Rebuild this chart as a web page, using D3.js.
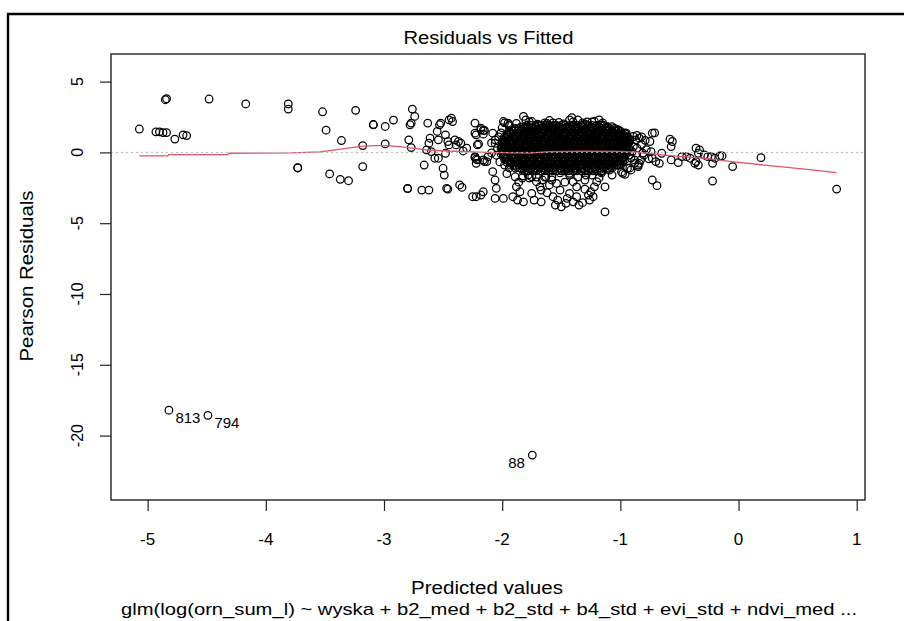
<!DOCTYPE html>
<html>
<head>
<meta charset="utf-8">
<script src="https://cdn.jsdelivr.net/npm/d3@7"></script>
<style>
  html, body { margin: 0; padding: 0; background: #fff; }
  svg { display: block; }
  text { font-family: "Liberation Sans", Arial, sans-serif; fill: #000; }
</style>
</head>
<body>
<svg id="chart" width="904" height="621"></svg>
<script>
// ---------------- DATA ----------------
const titleText = "Residuals vs Fitted";
const xLabelText = "Predicted values";
const yLabelText = "Pearson Residuals";
const subText = "glm(log(orn_sum_l) ~ wyska + b2_med + b2_std + b4_std + evi_std + ndvi_med ...";

const xTicks = [-5, -4, -3, -2, -1, 0, 1];
const yTicks = [5, 0, -5, -10, -15, -20];

// scattered points [fitted, pearson residual]
const scatterPoints = [
  [-5.07,1.65],[-4.93,1.45],[-4.90,1.45],[-4.87,1.40],[-4.84,1.40],[-4.77,0.94],[-4.70,1.24],[-4.67,1.19],
  [-4.85,3.72],[-4.84,3.79],[-4.48,3.77],[-4.17,3.42],[-3.81,3.42],[-3.81,3.06],[-3.52,2.87],[-3.49,1.57],
  [-3.73,-1.08],[-3.73,-1.10],[-3.46,-1.52],
  [-3.24,2.97],[-3.09,1.95],[-3.09,1.97],[-2.99,1.83],[-2.92,2.28],[-3.36,0.84],[-3.18,0.48],[-2.99,0.60],
  [-3.18,-1.00],[-3.37,-1.90],[-3.30,-2.00],
  [-2.76,3.06],[-2.74,2.54],[-2.77,2.07],[-2.78,1.95],[-2.79,0.89],[-2.77,0.34],[-2.80,-2.54],[-2.80,-2.56],
  [-2.68,-2.66],[-2.62,-2.66],[-2.66,-0.89],[-2.63,2.07],[-2.61,1.00],[-2.62,0.65],[-2.64,0.18],[-2.60,0.06],
  [-2.57,-0.41],[-2.54,-0.41],[-2.54,0.89],[-2.55,1.48],[-2.53,1.95],[-2.52,2.07],[-2.48,1.24],[-2.46,0.77],
  [-2.45,0.53],[-2.48,-0.06],[-2.50,-1.12],[-2.49,-1.60],[-2.46,-2.59],[-2.47,-2.54],[-2.45,2.30],[-2.42,2.18],
  [-2.43,2.42],[-2.40,0.89],[-2.37,0.77],[-2.35,0.65],[-2.39,0.53],[-2.33,0.10],[-2.30,0.30],[-2.36,-2.30],
  [-2.34,-2.47],[-2.23,2.07],[-2.22,1.24],[-2.18,1.60],[-2.16,1.55],[-2.20,0.60],[-2.23,-0.37],[-2.22,-0.48],
  [-2.16,-0.53],[-2.13,-0.65],[-2.22,-0.77],[-2.25,-3.13],[-2.22,-3.13],[-2.18,-3.01],[-2.16,-2.78],
  [-2.18,1.72],[-2.15,1.55],[-2.23,1.36],[-2.16,1.29],[-2.21,0.53],[-2.23,-0.30],[-2.21,-0.53],[-2.15,-0.65],
  [-2.12,-0.30],[-2.08,1.36],[-2.06,0.65],[-2.08,-1.36],[-2.06,-1.95],[-2.05,-2.54],[-2.06,-3.25],[-1.99,-3.25],
  [-1.99,2.18],[-1.95,2.07],[-1.94,1.88],[-1.82,2.54],[-1.80,2.30],[-1.75,2.18],
  [-1.89,-1.72],[-1.88,-2.43],[-1.85,-2.78],[-1.91,-3.13],[-1.87,-3.37],[-1.82,-3.49],
  [-1.78,-1.60],[-1.75,-1.72],[-1.71,-2.07],[-1.68,-2.43],[-1.67,-2.66],[-1.73,-3.37],[-1.67,-3.49],
  [-1.63,-1.72],[-1.58,-1.95],[-1.54,-2.19],[-1.51,-2.66],[-1.57,-3.13],[-1.53,-3.37],[-1.55,-3.72],[-1.50,-3.84],[-1.46,-3.60],
  [-1.43,-1.48],[-1.40,-2.07],[-1.37,-2.43],[-1.43,-2.90],[-1.37,-3.13],[-1.35,-3.72],[-1.40,-3.49],
  [-1.27,-3.01],[-1.26,-3.37],[-1.23,-3.13],[-1.25,-2.78],[-1.22,-2.43],[-1.20,-2.07],
  [-1.13,-2.43],[-1.13,-4.20],
  [-1.16,-1.36],[-1.09,-1.24],[-1.03,-0.89],[-0.98,-1.48],[-0.94,-1.12],[-0.88,-0.77],
  [-0.92,-0.18],[-0.88,-0.53],[-0.95,0.18],[-0.89,0.41],[-0.95,1.36],[-0.89,1.12],[-0.87,0.89],
  [-0.84,1.00],[-0.73,1.36],[-0.75,0.77],[-0.74,0.06],[-0.73,-0.41],[-0.70,-0.65],[-0.67,-0.77],[-0.65,-0.06],
  [-0.84,-0.77],[-0.85,-1.00],[-0.91,-1.24],[-0.96,-1.55],[-0.73,-1.95],[-0.69,-2.35],
  [-0.58,0.94],[-0.56,0.77],[-0.57,0.41],[-0.57,-0.53],[-0.51,-0.72],[-0.48,-0.30],[-0.44,-0.30],[-0.41,-0.41],
  [-0.36,0.30],[-0.33,0.18],[-0.34,-0.06],[-0.36,-0.65],[-0.34,-0.89],[-0.37,-0.77],[-0.29,-0.18],[-0.26,-0.30],
  [-0.23,-0.30],[-0.20,-0.41],[-0.16,-0.25],[-0.22,-0.77],[-0.22,-2.02],[-0.14,-0.25],[-0.05,-1.00],[0.19,-0.37],[0.83,-2.59],
  // fringe of the dense cloud
  [-1.98,2.09],[-1.94,1.95],[-1.77,2.16],[-1.64,2.09],[-1.62,2.05],[-1.57,2.09],[-1.43,2.30],[-1.41,2.45],
  [-1.40,2.16],[-1.32,2.09],[-1.28,2.16],[-1.24,2.16],[-1.22,2.20],[-1.16,1.95],[-1.15,2.09],[-1.11,1.81],
  [-1.07,1.81],[-1.02,1.60],[-0.96,1.38],[-0.94,1.10],[-0.82,1.10],[-0.71,1.38],
  [-1.60,2.25],[-1.52,2.12],[-1.48,2.02],[-1.36,2.30],[-1.30,2.02],[-1.18,2.30],[-1.70,2.00],[-1.88,2.05],
  [-2.09,0.67],[-2.06,0.89],[-2.01,1.38],[-2.00,1.74],[-2.09,-0.04],[-2.02,-0.67],[-1.98,-0.89],[-1.94,-1.10],
  [-2.04,0.30],[-2.05,-0.20],[-2.03,1.10],
  [-1.83,-1.67],[-1.71,-1.74],[-1.64,-1.74],[-1.58,-1.74],[-1.51,-1.45],[-1.43,-1.60],[-1.36,-1.74],[-1.29,-1.60],
  [-1.24,-1.60],[-1.16,-1.45],[-1.07,-1.60],[-0.99,-1.38],[-0.92,-1.10],[-0.85,-0.89],
  [-1.83,-1.81],[-1.77,-1.81],[-1.96,-1.50],[-1.60,-2.30],[-1.47,-2.10],[-1.30,-1.95],[-1.18,-1.80],[-1.66,-1.95],
  [-1.86,-2.10],[-1.30,-2.60],[-1.62,-2.85],[-1.45,-3.25],[-1.75,-2.90],[-1.32,-3.55],
  [-0.93,0.65],[-0.90,0.05],[-0.86,0.30],[-0.82,0.55],[-0.80,-0.20],[-0.78,0.20],[-0.76,-0.45],[-0.91,-0.40],
  [-0.83,-0.55],[-0.79,0.85],[-0.86,1.20],[-0.81,-0.05]
];

// dense core of the cloud: residual level, fitted values at that level
const denseRows = [
  [1.9,  [-1.79,-1.76,-1.72,-1.69,-1.67,-1.63,-1.60,-1.56,-1.54,-1.50,-1.47,-1.43,-1.40,-1.37,-1.33,-1.31,-1.27,-1.24,-1.20,-1.17,-1.14]],
  [1.8,  [-1.84,-1.78,-1.71,-1.65,-1.58,-1.52,-1.45,-1.38,-1.32,-1.25,-1.18,-1.11]],
  [1.7,  [-1.89,-1.86,-1.82,-1.79,-1.75,-1.73,-1.69,-1.66,-1.62,-1.59,-1.57,-1.53,-1.49,-1.46,-1.43,-1.39,-1.36,-1.33,-1.29,-1.26,-1.23,-1.19,-1.16,-1.12,-1.09,-1.05]],
  [1.6,  [-1.90,-1.83,-1.77,-1.70,-1.64,-1.57,-1.50,-1.44,-1.37,-1.30,-1.24,-1.17,-1.10,-1.04]],
  [1.5,  [-1.94,-1.91,-1.87,-1.84,-1.81,-1.77,-1.74,-1.71,-1.67,-1.64,-1.61,-1.57,-1.54,-1.51,-1.48,-1.44,-1.41,-1.38,-1.34,-1.31,-1.28,-1.24,-1.21,-1.18,-1.14,-1.11,-1.07,-1.04,-1.00]],
  [1.4,  [-1.93,-1.86,-1.80,-1.73,-1.66,-1.60,-1.53,-1.46,-1.40,-1.33,-1.27,-1.20,-1.13,-1.06,-1.00]],
  [1.3,  [-1.96,-1.93,-1.89,-1.86,-1.82,-1.79,-1.76,-1.72,-1.69,-1.66,-1.62,-1.59,-1.56,-1.52,-1.49,-1.46,-1.42,-1.39,-1.36,-1.32,-1.29,-1.26,-1.22,-1.19,-1.16,-1.12,-1.09,-1.06,-1.02,-0.99,-0.96]],
  [1.2,  [-1.95,-1.88,-1.82,-1.75,-1.69,-1.62,-1.55,-1.49,-1.42,-1.35,-1.29,-1.22,-1.15,-1.09,-1.02,-0.97]],
  [1.1,  [-1.98,-1.95,-1.91,-1.88,-1.84,-1.81,-1.78,-1.74,-1.71,-1.68,-1.64,-1.61,-1.57,-1.54,-1.51,-1.47,-1.44,-1.41,-1.37,-1.34,-1.30,-1.27,-1.24,-1.20,-1.17,-1.14,-1.10,-1.07,-1.03,-1.00,-0.97,-0.94]],
  [1.0,  [-1.97,-1.90,-1.83,-1.77,-1.70,-1.63,-1.57,-1.50,-1.43,-1.37,-1.30,-1.23,-1.17,-1.10,-1.03,-0.96]],
  [0.9,  [-1.99,-1.96,-1.92,-1.89,-1.85,-1.82,-1.79,-1.75,-1.72,-1.69,-1.65,-1.62,-1.58,-1.55,-1.52,-1.48,-1.45,-1.42,-1.38,-1.35,-1.31,-1.28,-1.25,-1.21,-1.18,-1.15,-1.11,-1.08,-1.04,-1.01,-0.98,-0.95,-0.92]],
  [0.8,  [-1.98,-1.92,-1.85,-1.78,-1.72,-1.65,-1.58,-1.52,-1.45,-1.38,-1.32,-1.25,-1.18,-1.12,-1.05,-0.98,-0.94]],
  [0.7,  [-2.00,-1.97,-1.93,-1.90,-1.86,-1.83,-1.80,-1.76,-1.73,-1.70,-1.66,-1.63,-1.59,-1.56,-1.53,-1.49,-1.46,-1.43,-1.39,-1.36,-1.32,-1.29,-1.26,-1.22,-1.19,-1.16,-1.12,-1.09,-1.05,-1.02,-0.99,-0.96,-0.93]],
  [0.6,  [-1.99,-1.93,-1.86,-1.79,-1.73,-1.66,-1.60,-1.53,-1.46,-1.40,-1.33,-1.26,-1.20,-1.13,-1.06,-1.00,-0.94]],
  [0.5,  [-1.99,-1.95,-1.92,-1.88,-1.85,-1.81,-1.78,-1.75,-1.71,-1.68,-1.64,-1.61,-1.58,-1.54,-1.51,-1.47,-1.44,-1.41,-1.37,-1.34,-1.30,-1.27,-1.24,-1.20,-1.17,-1.13,-1.10,-1.07,-1.03,-1.00,-0.97,-0.94]],
  [0.4,  [-2.00,-1.94,-1.87,-1.80,-1.74,-1.67,-1.61,-1.54,-1.47,-1.41,-1.34,-1.27,-1.21,-1.14,-1.07,-1.01,-0.95]],
  [0.3,  [-2.01,-1.98,-1.94,-1.91,-1.87,-1.84,-1.80,-1.77,-1.74,-1.70,-1.67,-1.63,-1.60,-1.57,-1.53,-1.50,-1.46,-1.43,-1.40,-1.36,-1.33,-1.29,-1.26,-1.23,-1.19,-1.16,-1.12,-1.09,-1.06,-1.02,-0.99,-0.96,-0.93]],
  [0.2,  [-1.99,-1.92,-1.86,-1.79,-1.72,-1.66,-1.59,-1.52,-1.46,-1.39,-1.33,-1.26,-1.19,-1.13,-1.06,-0.99,-0.95]],
  [0.1,  [-2.00,-1.96,-1.93,-1.89,-1.86,-1.82,-1.79,-1.76,-1.72,-1.69,-1.65,-1.62,-1.59,-1.55,-1.52,-1.48,-1.45,-1.42,-1.38,-1.35,-1.31,-1.28,-1.25,-1.21,-1.18,-1.14,-1.11,-1.08,-1.04,-1.01,-0.97,-0.94]],
  [0.0,  [-2.00,-1.93,-1.87,-1.80,-1.73,-1.67,-1.60,-1.54,-1.47,-1.40,-1.34,-1.27,-1.20,-1.14,-1.07,-1.00,-0.96]],
  [-0.1, [-2.01,-1.97,-1.94,-1.90,-1.87,-1.84,-1.80,-1.77,-1.73,-1.70,-1.67,-1.63,-1.60,-1.56,-1.53,-1.50,-1.46,-1.43,-1.39,-1.36,-1.33,-1.29,-1.26,-1.22,-1.19,-1.16,-1.12,-1.09,-1.05,-1.02,-0.99,-0.95]],
  [-0.2, [-1.98,-1.91,-1.85,-1.78,-1.71,-1.65,-1.58,-1.51,-1.45,-1.38,-1.32,-1.25,-1.18,-1.12,-1.05,-0.99]],
  [-0.3, [-1.99,-1.96,-1.92,-1.89,-1.85,-1.82,-1.78,-1.75,-1.72,-1.68,-1.65,-1.61,-1.58,-1.55,-1.51,-1.48,-1.44,-1.41,-1.38,-1.34,-1.31,-1.27,-1.24,-1.21,-1.17,-1.14,-1.10,-1.07,-1.04,-1.00,-0.97]],
  [-0.4, [-1.97,-1.90,-1.83,-1.77,-1.70,-1.64,-1.57,-1.50,-1.44,-1.37,-1.30,-1.24,-1.17,-1.10,-1.04,-0.98]],
  [-0.5, [-1.98,-1.94,-1.91,-1.87,-1.84,-1.81,-1.77,-1.74,-1.70,-1.67,-1.64,-1.60,-1.57,-1.53,-1.50,-1.47,-1.43,-1.40,-1.36,-1.33,-1.30,-1.26,-1.23,-1.19,-1.16,-1.13,-1.09,-1.06,-1.02,-0.99,-0.96]],
  [-0.6, [-1.95,-1.88,-1.82,-1.75,-1.68,-1.62,-1.55,-1.48,-1.42,-1.35,-1.29,-1.22,-1.15,-1.09,-1.02,-0.98]],
  [-0.7, [-1.96,-1.93,-1.89,-1.86,-1.82,-1.79,-1.76,-1.72,-1.69,-1.65,-1.62,-1.59,-1.55,-1.52,-1.48,-1.45,-1.42,-1.38,-1.35,-1.31,-1.28,-1.25,-1.21,-1.18,-1.14,-1.11,-1.08,-1.04,-1.01,-0.98]],
  [-0.8, [-1.92,-1.85,-1.79,-1.72,-1.65,-1.59,-1.52,-1.45,-1.39,-1.32,-1.26,-1.19,-1.12,-1.06,-1.00]],
  [-0.9, [-1.93,-1.90,-1.86,-1.83,-1.80,-1.76,-1.73,-1.69,-1.66,-1.63,-1.59,-1.56,-1.52,-1.49,-1.46,-1.42,-1.39,-1.35,-1.32,-1.29,-1.25,-1.22,-1.18,-1.15,-1.12,-1.08,-1.05,-1.01]],
  [-1.0, [-1.88,-1.81,-1.74,-1.68,-1.61,-1.55,-1.48,-1.41,-1.35,-1.28,-1.21,-1.15,-1.08]],
  [-1.1, [-1.89,-1.85,-1.82,-1.78,-1.75,-1.72,-1.68,-1.65,-1.61,-1.58,-1.55,-1.51,-1.48,-1.44,-1.41,-1.38,-1.34,-1.31,-1.27,-1.24,-1.21,-1.17,-1.14,-1.10,-1.07]],
  [-1.2, [-1.83,-1.76,-1.70,-1.63,-1.56,-1.50,-1.43,-1.37,-1.30,-1.23,-1.17,-1.11]],
  [-1.3, [-1.81,-1.78,-1.74,-1.71,-1.67,-1.64,-1.61,-1.57,-1.54,-1.50,-1.47,-1.44,-1.40,-1.37,-1.33,-1.30,-1.27,-1.23,-1.20,-1.16]]
];

// labelled outliers
const outlierFitted = [-4.82, -4.49, -1.745];
const outlierResid  = [-18.21, -18.57, -21.38];
const outlierLabels = ["813", "794", "88"];
const outlierSide   = ["right", "right", "left"];

// smoothed (lowess) line
const smoothFitted = [-5.07,-4.83,-4.82,-4.32,-4.31,-3.78,-3.54,-3.38,-3.26,-3.18,-3.07,-2.98,-2.87,-2.76,-2.64,-2.47,-2.30,-2.13,-1.95,-1.77,-1.60,-1.30,-1.00,-0.87,-0.75,-0.58,-0.30,-0.02,0.26,0.54,0.83];
const smoothResid  = [-0.25,-0.25,-0.16,-0.16,-0.06,-0.04,0.04,0.22,0.36,0.45,0.48,0.48,0.41,0.30,0.18,0.10,0.05,0.00,-0.03,-0.05,0.06,0.08,0.07,0.02,-0.08,-0.23,-0.41,-0.68,-0.93,-1.17,-1.43];

// ---------------- DRAW ----------------
const svg = d3.select("#chart");
svg.append("rect").attr("width", 904).attr("height", 621).attr("fill", "#fff");

const box = { left: 111, right: 865, top: 54, bottom: 500 };
const x = d3.scaleLinear().domain([-5.31, 1.07]).range([box.left, box.right]);
const y = d3.scaleLinear().domain([-24.55, 6.95]).range([box.bottom, box.top]);

// outer frame
svg.append("path")
  .attr("d", "M8,621 V14 H904")
  .attr("fill", "none").attr("stroke", "#000").attr("stroke-width", 2.4);

// all points
const allPts = scatterPoints.slice();
denseRows.forEach(([r, xs]) => xs.forEach(v => allPts.push([v, r])));
outlierFitted.forEach((v, i) => allPts.push([v, outlierResid[i]]));

const gPts = svg.append("g");
gPts.selectAll("circle").data(allPts).join("circle")
  .attr("cx", d => x(d[0])).attr("cy", d => y(d[1]))
  .attr("r", 3.8)
  .attr("fill", "none").attr("stroke", "#000").attr("stroke-width", 1.25);

// lowess line
const line = d3.line().x(d => x(d[0])).y(d => y(d[1]));
svg.append("path")
  .datum(smoothFitted.map((v, i) => [v, smoothResid[i]]))
  .attr("d", line)
  .attr("fill", "none").attr("stroke", "#DF536B").attr("stroke-width", 1.3);

// zero line
svg.append("line")
  .attr("x1", box.left).attr("x2", box.right)
  .attr("y1", y(0)).attr("y2", y(0))
  .attr("stroke", "#b3b3b3").attr("stroke-width", 1).attr("stroke-dasharray", "2,3");

// outlier labels
outlierLabels.forEach((lab, i) => {
  const right = outlierSide[i] === "right";
  svg.append("text")
    .attr("x", x(outlierFitted[i]) + (right ? 6.5 : -7.5))
    .attr("y", y(outlierResid[i]) + 12.5)
    .attr("text-anchor", right ? "start" : "end")
    .attr("font-size", 15)
    .text(lab);
});

// plot box
svg.append("rect")
  .attr("x", box.left).attr("y", box.top)
  .attr("width", box.right - box.left).attr("height", box.bottom - box.top)
  .attr("fill", "none").attr("stroke", "#222").attr("stroke-width", 1.4);

// x axis
const xAxis = svg.append("g")
  .attr("transform", `translate(0,${box.bottom})`)
  .call(d3.axisBottom(x).tickValues(xTicks).tickSize(11).tickFormat(""));
xAxis.select(".domain").remove();
xAxis.selectAll(".tick line").attr("stroke", "#222").attr("stroke-width", 1.2);
xTicks.forEach(t => {
  svg.append("text")
    .attr("x", x(t)).attr("y", 545)
    .attr("text-anchor", "middle").attr("font-size", 17)
    .text(t);
});

// y axis
const yAxis = svg.append("g")
  .attr("transform", `translate(${box.left},0)`)
  .call(d3.axisLeft(y).tickValues(yTicks).tickSize(11).tickFormat(""));
yAxis.select(".domain").remove();
yAxis.selectAll(".tick line").attr("stroke", "#222").attr("stroke-width", 1.2);
yTicks.forEach(t => {
  svg.append("text")
    .attr("transform", `translate(83,${y(t)}) rotate(-90)`)
    .attr("text-anchor", "middle").attr("font-size", 16)
    .text(t);
});

// titles
svg.append("text")
  .attr("x", 488.5).attr("y", 44)
  .attr("text-anchor", "middle").attr("font-size", 18)
  .attr("textLength", 170).attr("lengthAdjust", "spacingAndGlyphs")
  .text(titleText);

svg.append("text")
  .attr("x", 487).attr("y", 594)
  .attr("text-anchor", "middle").attr("font-size", 18)
  .attr("textLength", 152).attr("lengthAdjust", "spacingAndGlyphs")
  .text(xLabelText);

svg.append("text")
  .attr("x", 489).attr("y", 615)
  .attr("text-anchor", "middle").attr("font-size", 17)
  .attr("textLength", 736).attr("lengthAdjust", "spacingAndGlyphs")
  .text(subText);

svg.append("text")
  .attr("transform", `translate(33,276) rotate(-90)`)
  .attr("text-anchor", "middle").attr("font-size", 18)
  .attr("textLength", 171).attr("lengthAdjust", "spacingAndGlyphs")
  .text(yLabelText);
</script>
</body>
</html>
